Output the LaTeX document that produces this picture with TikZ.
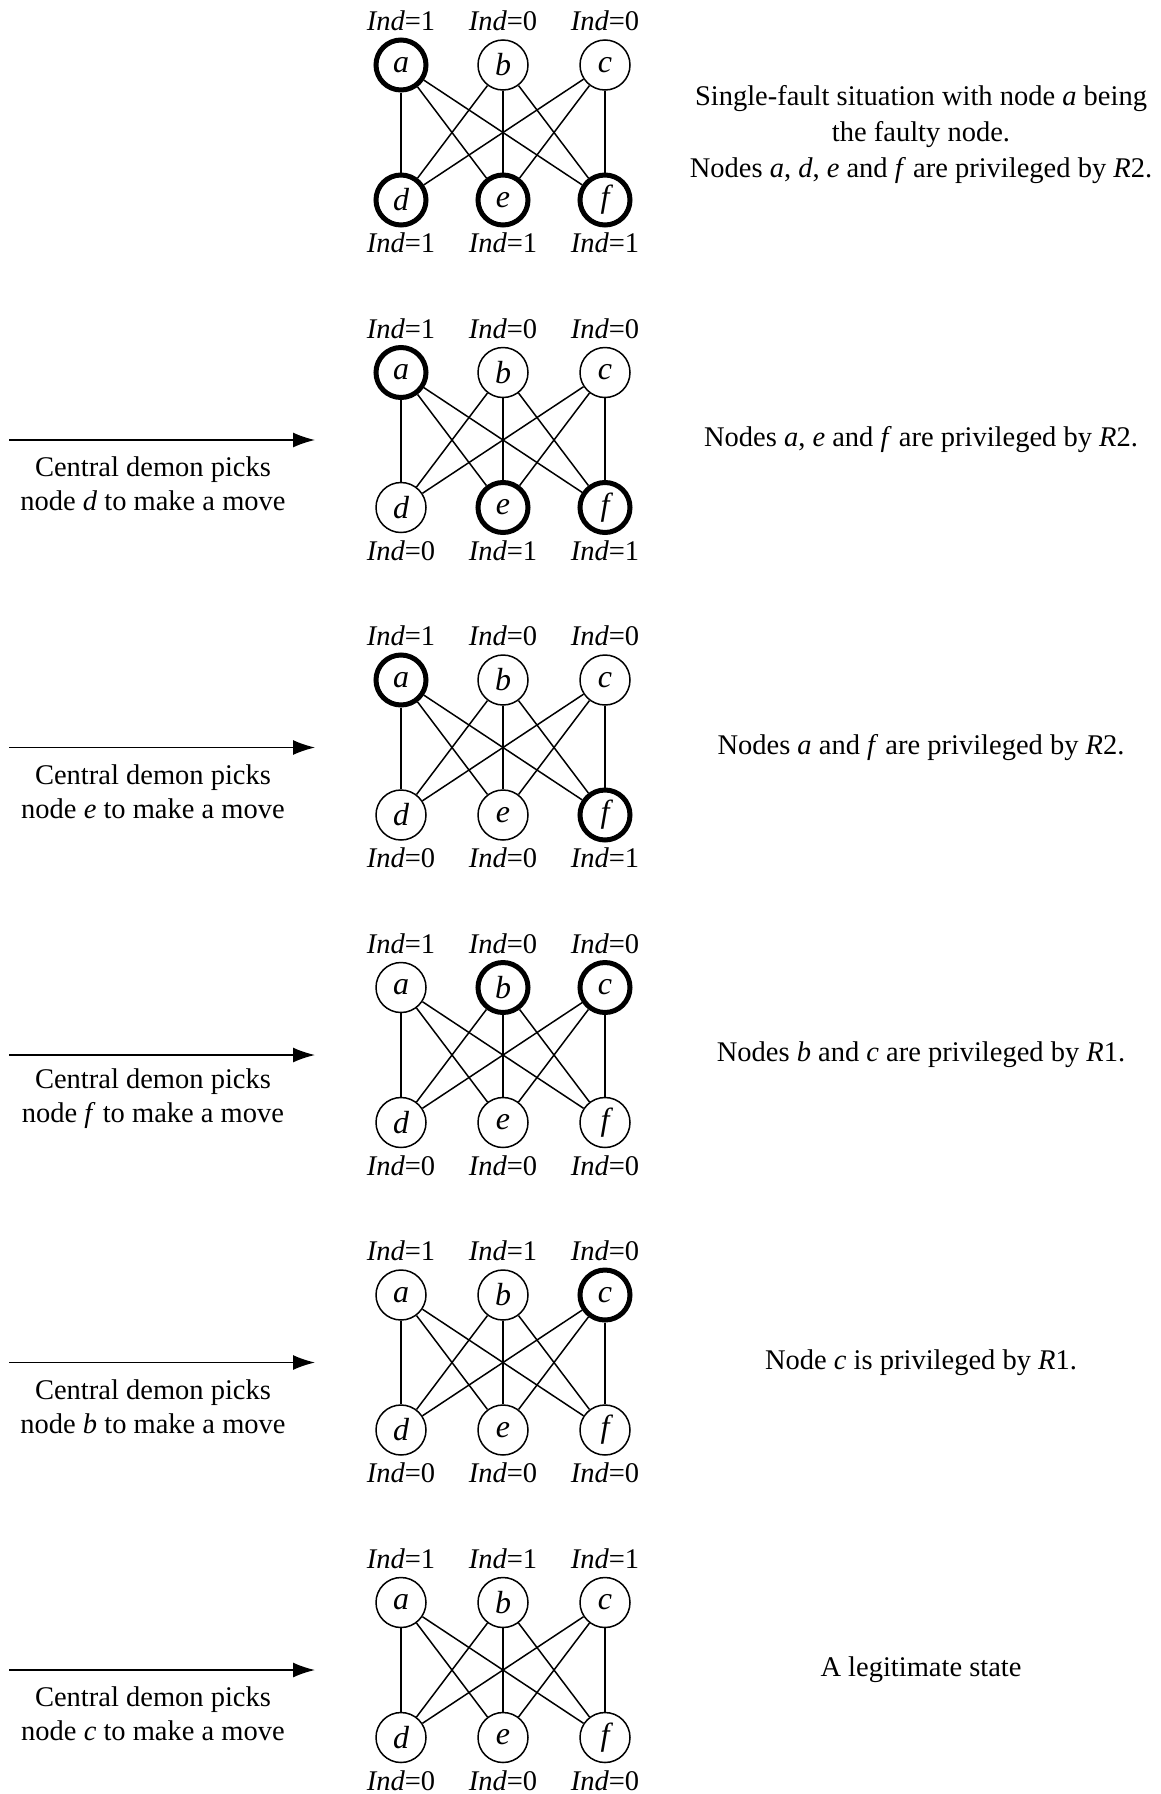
\documentclass[tikz,border=0pt]{standalone}
\usepackage{fontspec}
\setmainfont{Liberation Serif}
\usetikzlibrary{arrows.meta}
\tikzset{
  plainnode/.style={circle,draw,line width=0.75pt,minimum size=25pt,inner sep=0pt,font=\fontsize{16pt}{18pt}\selectfont\itshape},
  privnode/.style={plainnode,line width=2.5pt},
  edge/.style={line width=0.75pt},
  lbl/.style={inner sep=0pt,font=\fontsize{14.25pt}{17pt}\selectfont},
  lefttxt/.style={lbl,align=center,font=\fontsize{14.25pt}{17pt}\selectfont},
  righttxt/.style={lbl,align=center,font=\fontsize{14.25pt}{18pt}\selectfont},
  movearrow/.style={line width=0.75pt,-{Latex[length=11pt,width=7.5pt]}}
}
\begin{document}
\begin{tikzpicture}[x=0.5pt,y=-0.5pt]
\useasboundingbox (0,0) rectangle (1161,1794);
\foreach \k/\ta/\tb/\tc/\bd/\be/\bff/\sa/\sb/\sc/\sd/\se/\sf in {
 0/1/0/0/1/1/1/privnode/plainnode/plainnode/privnode/privnode/privnode,
 1/1/0/0/0/1/1/privnode/plainnode/plainnode/plainnode/privnode/privnode,
 2/1/0/0/0/0/1/privnode/plainnode/plainnode/plainnode/plainnode/privnode,
 3/1/0/0/0/0/0/plainnode/privnode/privnode/plainnode/plainnode/plainnode,
 4/1/1/0/0/0/0/plainnode/plainnode/privnode/plainnode/plainnode/plainnode,
 5/1/1/1/0/0/0/plainnode/plainnode/plainnode/plainnode/plainnode/plainnode}
{
  \pgfmathsetmacro{\yt}{65+307.5*\k}
  \pgfmathsetmacro{\yb}{200+307.5*\k}
  \node[\sa] (a\k) at (401,\yt) {a};
  \node[\sb] (b\k) at (503,\yt) {b};
  \node[\sc] (c\k) at (605,\yt) {c};
  \node[\sd] (d\k) at (401,\yb) {d};
  \node[\se] (e\k) at (503,\yb) {e};
  \node[\sf] (f\k) at (605,\yb) {f};
  \node[lbl] (ia\k) at (401,\yt-44) {\textit{Ind}=\ta};
  \node[lbl] (ib\k) at (503,\yt-44) {\textit{Ind}=\tb};
  \node[lbl] (ic\k) at (605,\yt-44) {\textit{Ind}=\tc};
  \node[lbl] (id\k) at (401,\yb+43) {\textit{Ind}=\bd};
  \node[lbl] (ie\k) at (503,\yb+43) {\textit{Ind}=\be};
  \node[lbl] (if\k) at (605,\yb+43) {\textit{Ind}=\bff};
  \foreach \u in {a,b,c}{
    \foreach \v in {d,e,f}{
      \draw[edge] (\u\k) -- (\v\k);
    }
  }
}
% right texts
\node[righttxt] (r0) at (921,135) {Single-fault situation with node \textit{a} being\\the faulty node.\\Nodes \textit{a}, \textit{d}, \textit{e} and \textit{f} are privileged by \textit{R}2.};
\node[righttxt] (r1) at (921,440) {Nodes \textit{a}, \textit{e} and \textit{f} are privileged by \textit{R}2.};
\node[righttxt] (r2) at (921,747.5) {Nodes \textit{a} and \textit{f} are privileged by \textit{R}2.};
\node[righttxt] (r3) at (921,1055) {Nodes \textit{b} and \textit{c} are privileged by \textit{R}1.};
\node[righttxt] (r4) at (921,1362.5) {Node \textit{c} is privileged by \textit{R}1.};
\node[righttxt] (r5) at (921,1670) {A legitimate state};
% left arrows and texts
\foreach \k/\n in {1/d,2/e,3/f,4/b,5/c}{
  \pgfmathsetmacro{\ym}{132.5+307.5*\k}
  \coordinate (s\k) at (9,\ym);
  \coordinate (t\k) at (315,\ym);
  \draw[movearrow] (s\k) -- (t\k);
  \node[lefttxt] (l\k) at (153,\ym+44) {Central demon picks\\node \textit{\n} to make a move};
}
\end{tikzpicture}
\end{document}
